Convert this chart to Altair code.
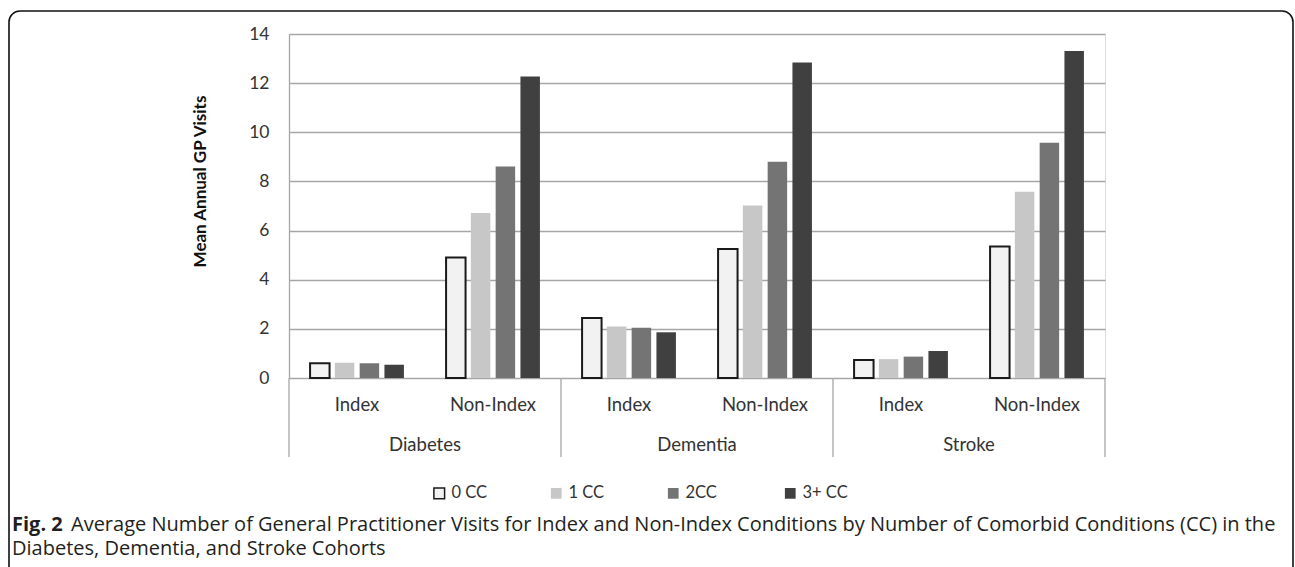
import altair as alt
import pandas as pd

# Categories
cohorts = ["Diabetes", "Dementia", "Stroke"]
visit_types = ["Index", "Non-Index"]
cc_levels = ["0 CC", "1 CC", "2CC", "3+ CC"]

# Mean annual GP visits, one value per comorbidity level (0, 1, 2, 3+)
diabetes_index = [0.60, 0.62, 0.60, 0.54]
diabetes_nonindex = [4.90, 6.72, 8.61, 12.27]
dementia_index = [2.44, 2.10, 2.04, 1.86]
dementia_nonindex = [5.25, 7.02, 8.80, 12.84]
stroke_index = [0.73, 0.77, 0.87, 1.10]
stroke_nonindex = [5.35, 7.58, 9.57, 13.31]

y_ticks = [0, 2, 4, 6, 8, 10, 12, 14]

caption_bold = "Fig. 2"
caption_line1 = ("Average Number of General Practitioner Visits for Index and Non-Index "
                 "Conditions by Number of Comorbid Conditions (CC) in the")
caption_line2 = "Diabetes, Dementia, and Stroke Cohorts"

bar_fills = ["#f2f2f2", "#c6c7c6", "#747474", "#404040"]
bar_strokes = ["#1a1a1a", "transparent", "transparent", "transparent"]
grid_gray = "#a6a6a6"
text_color = "#333333"
chart_font = "Lato"
caption_font = "Open Sans"

series = {
    ("Diabetes", "Index"): diabetes_index,
    ("Diabetes", "Non-Index"): diabetes_nonindex,
    ("Dementia", "Index"): dementia_index,
    ("Dementia", "Non-Index"): dementia_nonindex,
    ("Stroke", "Index"): stroke_index,
    ("Stroke", "Non-Index"): stroke_nonindex,
}

group_order = [f"{c}|{t}" for c in cohorts for t in visit_types]

rows = []
for (cohort, vtype), vals in series.items():
    for cc, v in zip(cc_levels, vals):
        rows.append({"group": f"{cohort}|{vtype}", "cohort": cohort,
                     "type": vtype, "cc": cc, "visits": v})
bars_df = pd.DataFrame(rows)

sub_labels = pd.DataFrame([{"group": f"{c}|{t}", "type": t}
                           for c in cohorts for t in visit_types])
cohort_labels = pd.DataFrame([{"group": f"{c}|Non-Index", "cohort": c} for c in cohorts])
left_edges = pd.DataFrame([{"group": f"{c}|Index"} for c in cohorts])
right_edge = pd.DataFrame([{"group": f"{cohorts[-1]}|Non-Index"}])

PLOT_W, PLOT_H = 816, 344
PAD = {"left": 289, "top": 34, "right": 1295 - 289 - PLOT_W, "bottom": 567 - 34 - PLOT_H}

x_scale = alt.Scale(domain=group_order, paddingInner=0, paddingOuter=0)


def xenc(band_pos=None, axis=None):
    kw = {}
    if band_pos is not None:
        kw["bandPosition"] = band_pos
    return alt.X("group:N", sort=group_order, scale=x_scale, axis=axis, **kw)


legend = alt.Legend(
    orient="none", legendX=142, legendY=451, direction="horizontal", columns=4,
    gridAlign="all", columnPadding=50, symbolType="square", symbolSize=115,
    symbolStrokeWidth=1.5, labelFontSize=16.5, labelFont=chart_font,
    labelColor=text_color, labelOffset=4, title=None, padding=0,
)

bars = alt.Chart(bars_df).mark_bar(strokeWidth=2).encode(
    x=xenc(axis=alt.Axis(labels=False, ticks=False, title=None, grid=False,
                         domainColor=grid_gray, domainWidth=1.3)),
    xOffset=alt.XOffset("cc:N", sort=cc_levels,
                        scale=alt.Scale(paddingInner=0.214, paddingOuter=0.85)),
    y=alt.Y("visits:Q", scale=alt.Scale(domain=[0, 14]),
            axis=alt.Axis(values=y_ticks, title="Mean Annual GP Visits",
                          ticks=False, labelPadding=20, labelFontSize=17.5,
                          labelFont=chart_font, labelColor=text_color,
                          domainColor=grid_gray, domainWidth=1.3,
                          gridColor=grid_gray, gridWidth=1.3,
                          titleFont=chart_font, titleFontSize=17,
                          titleFontWeight="bold", titleColor="#111111",
                          titlePadding=39, titleY=147)),
    fill=alt.Fill("cc:N", sort=cc_levels,
                  scale=alt.Scale(domain=cc_levels, range=bar_fills), legend=legend),
    stroke=alt.Stroke("cc:N", sort=cc_levels,
                      scale=alt.Scale(domain=cc_levels, range=bar_strokes), legend=legend),
)

sub_text = alt.Chart(sub_labels).mark_text(
    font=chart_font, fontSize=18.5, color=text_color, baseline="middle"
).encode(x=xenc(), y=alt.value(371), text="type:N")

cohort_text = alt.Chart(cohort_labels).mark_text(
    font=chart_font, fontSize=18.5, color=text_color, baseline="middle"
).encode(x=xenc(band_pos=0), y=alt.value(411), text="cohort:N")

sep_left = alt.Chart(left_edges).mark_rule(color=grid_gray, strokeWidth=1.3).encode(
    x=xenc(band_pos=0), y=alt.value(344), y2=alt.value(423))
sep_right = alt.Chart(right_edge).mark_rule(color=grid_gray, strokeWidth=1.3).encode(
    x=xenc(band_pos=1), y=alt.value(344), y2=alt.value(423))

# Frame around the figure (open at the bottom edge of the page)
frame = alt.Chart(alt.Data(values=[{}])).mark_rect(
    fill=None, stroke="#111111", strokeWidth=1.6, cornerRadius=11
).encode(x=alt.value(9 - 289), x2=alt.value(1293 - 289),
         y=alt.value(11 - 34), y2=alt.value(640))

cap_bold = alt.Chart(alt.Data(values=[{"t": caption_bold}])).mark_text(
    font=caption_font, fontSize=20, fontWeight="bold", color="#231f20",
    align="left", baseline="alphabetic"
).encode(x=alt.value(12 - 289), y=alt.value(531 - 34), text="t:N")

cap_l1 = alt.Chart(alt.Data(values=[{"t": caption_line1}])).mark_text(
    font=caption_font, fontSize=20, color="#231f20",
    align="left", baseline="alphabetic"
).encode(x=alt.value(71 - 289), y=alt.value(531 - 34), text="t:N")

cap_l2 = alt.Chart(alt.Data(values=[{"t": caption_line2}])).mark_text(
    font=caption_font, fontSize=20, color="#231f20",
    align="left", baseline="alphabetic"
).encode(x=alt.value(12 - 289), y=alt.value(555 - 34), text="t:N")

chart = alt.layer(
    bars, sub_text, cohort_text, sep_left, sep_right, frame, cap_bold, cap_l1, cap_l2
).properties(
    width=PLOT_W, height=PLOT_H, padding=PAD,
    autosize=alt.AutoSizeParams(type="none"),
).configure_view(stroke=None).configure(background="white")

chart.save("out.html", embed_options={"renderer": "svg", "actions": False})
